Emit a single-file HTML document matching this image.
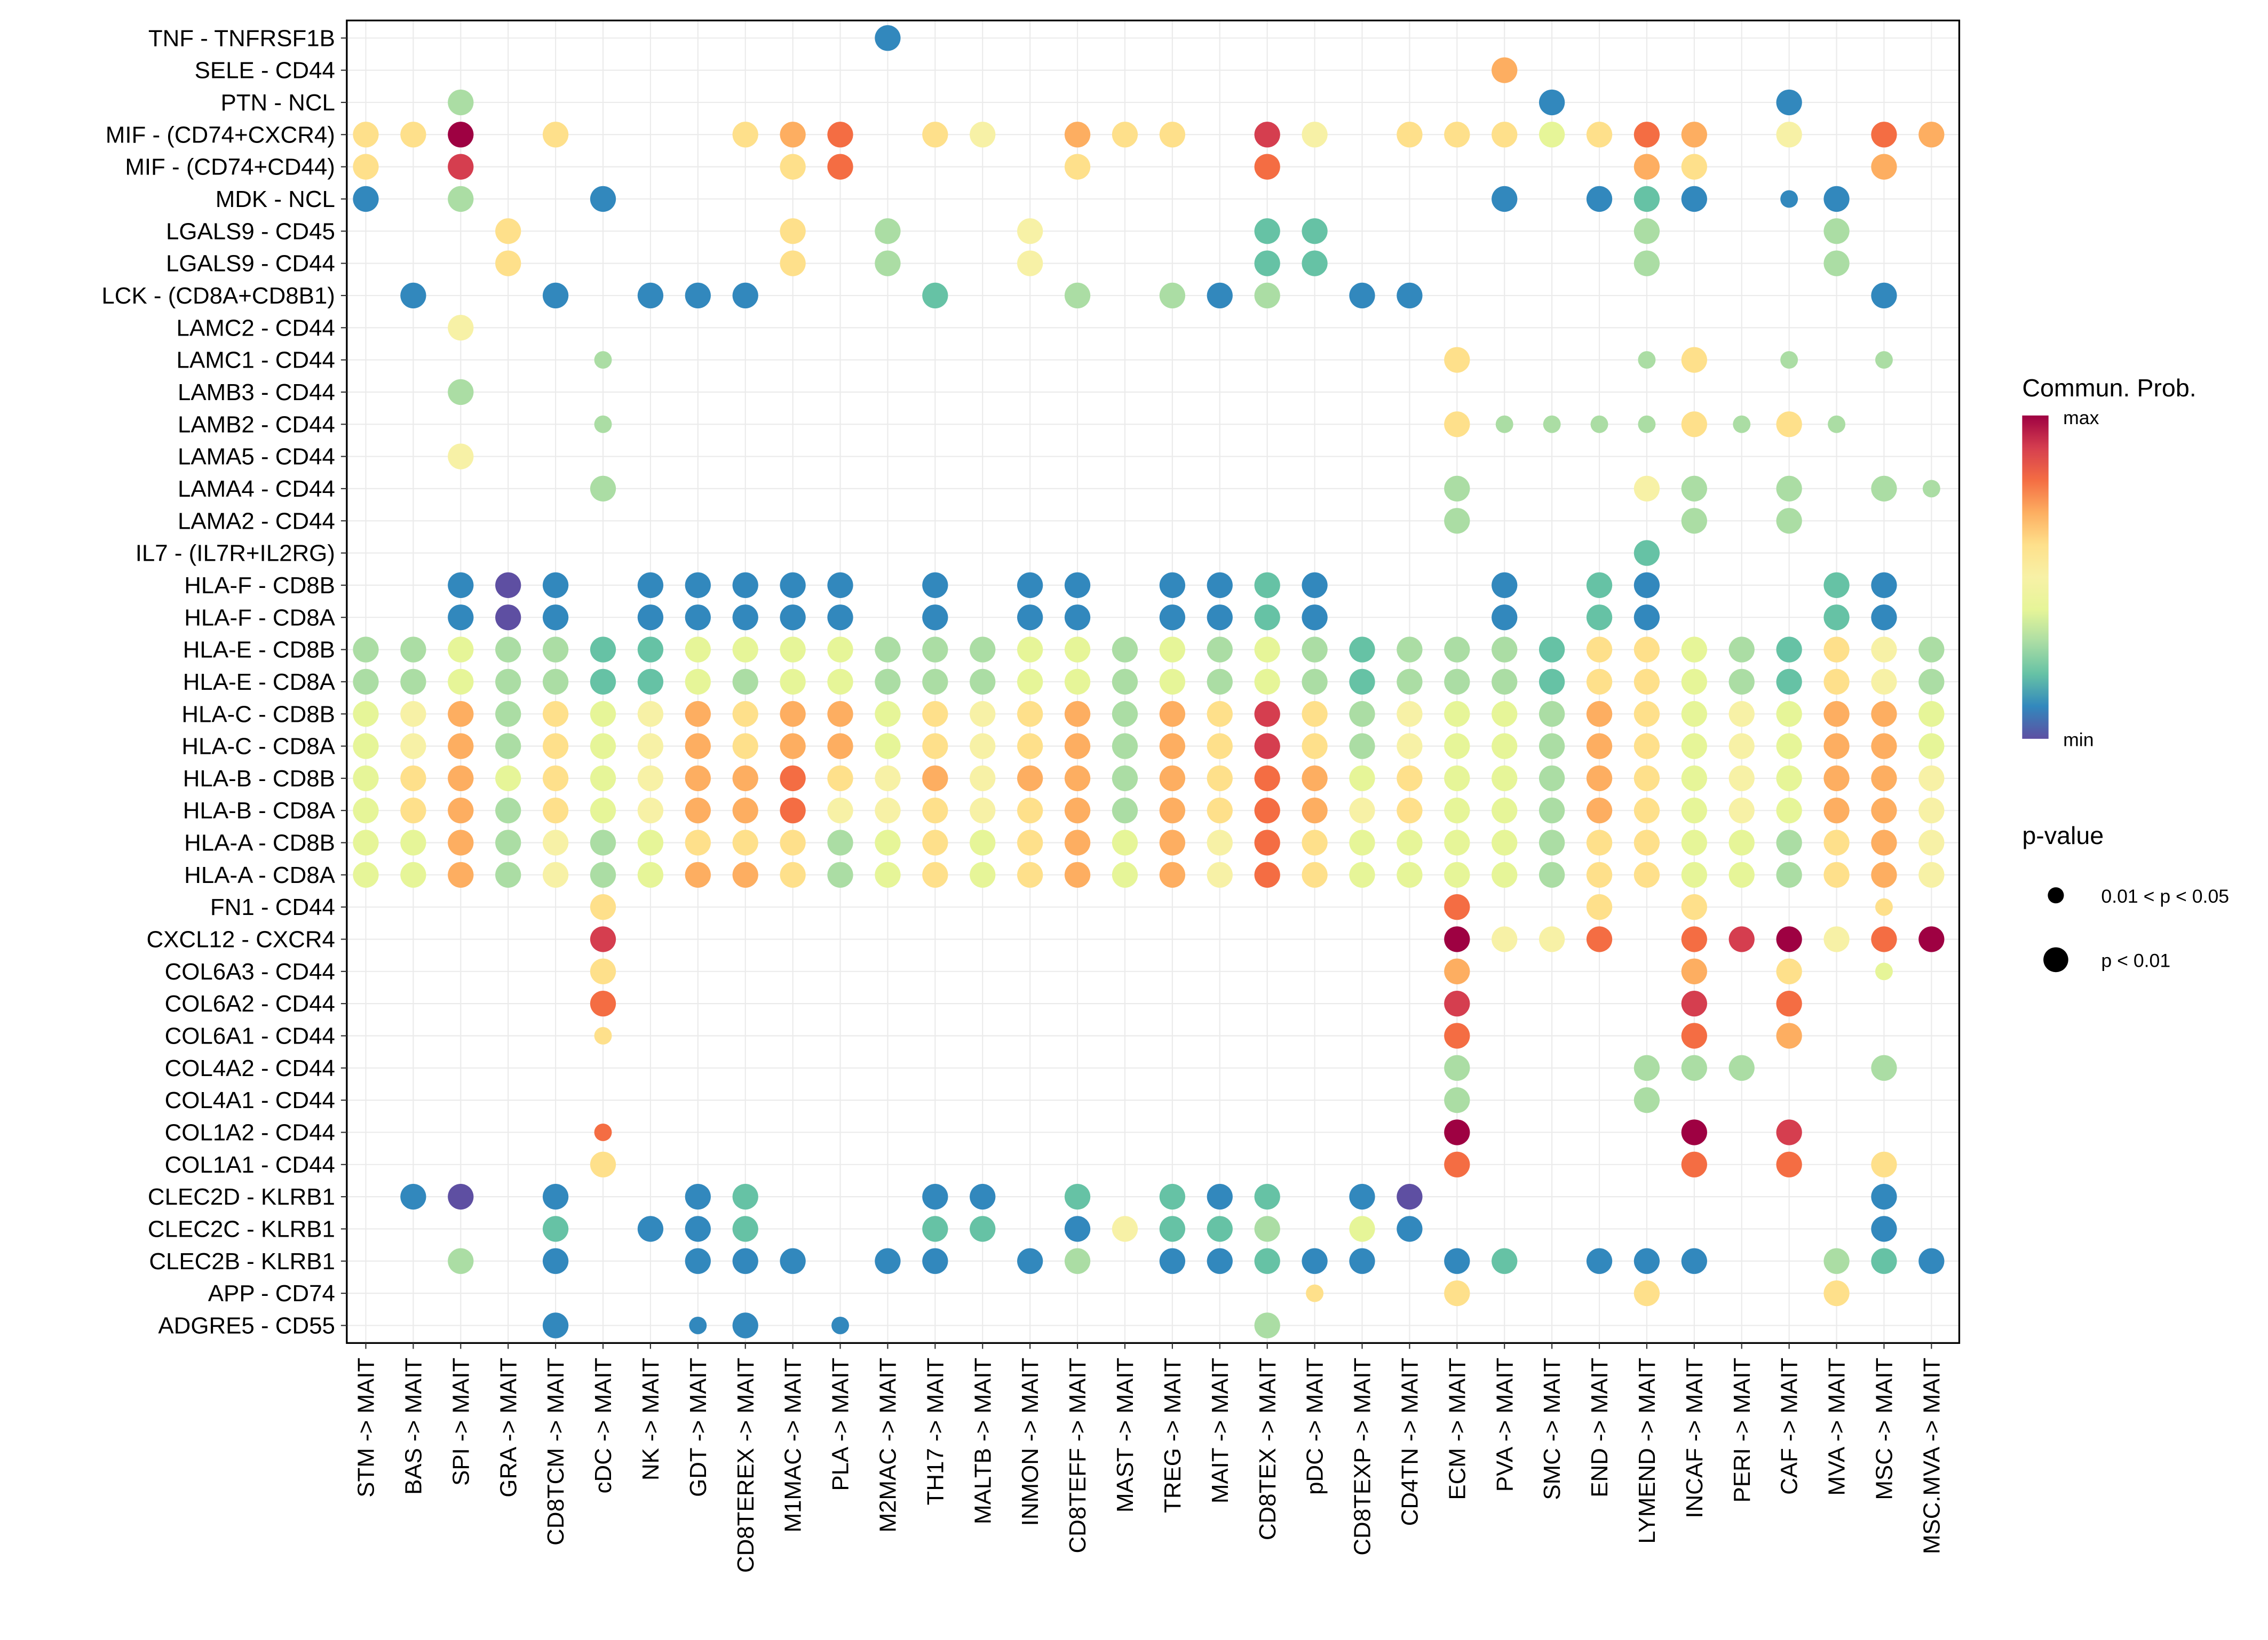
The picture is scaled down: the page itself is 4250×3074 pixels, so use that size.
<!DOCTYPE html>
<html><head><meta charset="utf-8"><style>
html,body{margin:0;padding:0;background:#fff}
svg{display:block}
text{font-family:"Liberation Sans",Arial,sans-serif;fill:#000}
</style></head><body>
<svg id="chart" width="4250" height="3074" viewBox="0 0 1550 1121" preserveAspectRatio="none" xmlns="http://www.w3.org/2000/svg">
<defs>
<linearGradient id="cbar" x1="0" y1="1" x2="0" y2="0">
<stop offset="0" stop-color="#5E4FA2"/><stop offset="0.1" stop-color="#3288BD"/><stop offset="0.2" stop-color="#66C2A5"/><stop offset="0.3" stop-color="#ABDDA4"/><stop offset="0.4" stop-color="#E6F598"/><stop offset="0.5" stop-color="#F7F1A6"/><stop offset="0.6" stop-color="#FEE08B"/><stop offset="0.7" stop-color="#FDAE61"/><stop offset="0.8" stop-color="#F46D43"/><stop offset="0.9" stop-color="#D53E4F"/><stop offset="1" stop-color="#9E0142"/>
</linearGradient>
</defs>
<g id="grid"></g>
<g id="dots"></g>
<rect x="237" y="14" width="1102" height="904" fill="none" stroke="#000" stroke-width="1.2"/>
<g id="ylab"></g>
<g id="xlab"></g>
<g>
<text x="1382" y="271" font-size="17">Commun. Prob.</text>
<rect x="1382" y="284" width="18" height="221" fill="url(#cbar)"/>
<text x="1410" y="290" font-size="13">max</text>
<text x="1410" y="510" font-size="13">min</text>
<text x="1382" y="577" font-size="17">p-value</text>
<circle cx="1405" cy="612" r="5.5" fill="#000"/>
<text x="1436" y="617" font-size="13">0.01 &lt; p &lt; 0.05</text>
<circle cx="1405" cy="656" r="8.5" fill="#000"/>
<text x="1436" y="661" font-size="13">p &lt; 0.01</text>
</g>
</svg>
<script>
const rowLabels = ["TNF - TNFRSF1B","SELE - CD44","PTN - NCL","MIF - (CD74+CXCR4)","MIF - (CD74+CD44)","MDK - NCL","LGALS9 - CD45","LGALS9 - CD44","LCK - (CD8A+CD8B1)","LAMC2 - CD44","LAMC1 - CD44","LAMB3 - CD44","LAMB2 - CD44","LAMA5 - CD44","LAMA4 - CD44","LAMA2 - CD44","IL7 - (IL7R+IL2RG)","HLA-F - CD8B","HLA-F - CD8A","HLA-E - CD8B","HLA-E - CD8A","HLA-C - CD8B","HLA-C - CD8A","HLA-B - CD8B","HLA-B - CD8A","HLA-A - CD8B","HLA-A - CD8A","FN1 - CD44","CXCL12 - CXCR4","COL6A3 - CD44","COL6A2 - CD44","COL6A1 - CD44","COL4A2 - CD44","COL4A1 - CD44","COL1A2 - CD44","COL1A1 - CD44","CLEC2D - KLRB1","CLEC2C - KLRB1","CLEC2B - KLRB1","APP - CD74","ADGRE5 - CD55"];
const colLabels = ["STM","BAS","SPI","GRA","CD8TCM","cDC","NK","GDT","CD8TEREX","M1MAC","PLA","M2MAC","TH17","MALTB","INMON","CD8TEFF","MAST","TREG","MAIT","CD8TEX","pDC","CD8TEXP","CD4TN","ECM","PVA","SMC","END","LYMEND","INCAF","PERI","CAF","MVA","MSC","MSC.MVA"];
// level codes: '0'-'9','A' = prob level 0..10 with p<0.01; 'a'-'k' = same with 0.01<p<0.05; '.' = none
const probLevels = [
"..... ..... .1... ..... ..... ..... ....",
"..... ..... ..... ..... ....7 ..... ....",
"..3.. ..... ..... ..... ..... 1.... 1...",
"66A.6 ...67 8.65. 766.9 5.666 4687. 5.87",
"6.9.. ....6 8.... 6...8 ..... ..76. ..7.",
"1.3.. 1.... ..... ..... ....1 .121. b1..",
"...6. ....6 .3..5 ....2 2.... ..3.. .3..",
"...6. ....6 .3..5 ....2 2.... ..3.. .3..",
".1..1 .111. ..2.. 3.313 .11.. ..... ..1.",
"..5.. ..... ..... ..... ..... ..... ....",
"..... d.... ..... ..... ...6. ..d6. d.d.",
"..3.. ..... ..... ..... ..... ..... ....",
"..... d.... ..... ..... ...6d ddd6d 6d..",
"..5.. ..... ..... ..... ..... ..... ....",
"..... 3.... ..... ..... ...3. ..53. 3.3d",
"..... ..... ..... ..... ...3. ...3. 3...",
"..... ..... ..... ..... ..... ..2.. ....",
"..101 .1111 1.1.1 1.112 1...1 .21.. .21.",
"..101 .1111 1.1.1 1.112 1...1 .21.. .21.",
"33433 22444 43334 43434 32333 26643 2653",
"33433 22434 43334 43434 32333 26643 2653",
"45736 45767 74656 73769 63544 37645 4774",
"45736 45767 74656 73769 63544 37645 4774",
"46746 45778 65757 73768 74644 37645 4775",
"46736 45778 55656 73768 75644 37645 4775",
"44735 34666 34646 74758 64444 36644 3675",
"44735 34776 34646 74758 64444 36644 3675",
"..... 6.... ..... ..... ...8. .6.6. ..g.",
"..... 9.... ..... ..... ...A5 58.89 A58A",
"..... 6.... ..... ..... ...7. ...7. 6.e.",
"..... 8.... ..... ..... ...9. ...9. 8...",
"..... g.... ..... ..... ...8. ...8. 7...",
"..... ..... ..... ..... ...3. ..333 ..3.",
"..... ..... ..... ..... ...3. ..3.. ....",
"..... i.... ..... ..... ...A. ...A. 9...",
"..... 6.... ..... ..... ...8. ...8. 8.6.",
".10.1 ..12. ..11. 2.212 .10.. ..... ..1.",
"....2 .112. ..22. 15223 .41.. ..... ..1.",
"..3.1 ..111 .11.1 3.112 11.12 .111. .321",
"..... ..... ..... ..... g..6. ..6.. .6..",
"....1 ..b1. b.... ....3 ..... ..... ...."
];
const palette = ["#5E4FA2","#3288BD","#66C2A5","#ABDDA4","#E6F598","#F7F1A6","#FEE08B","#FDAE61","#F46D43","#D53E4F","#9E0142"];
const NS = "http://www.w3.org/2000/svg";
const x0 = 250, x1 = 1320, y0 = 26, y1 = 906;
function xScale(i){ return x0 + i*(x1-x0)/(colLabels.length-1); }
function yScale(j){ return y0 + j*(y1-y0)/(rowLabels.length-1); }
const grid = document.getElementById('grid');
const dots = document.getElementById('dots');
const ylab = document.getElementById('ylab');
const xlab = document.getElementById('xlab');
function mk(tag, attrs, parent){ const e=document.createElementNS(NS,tag); for(const k in attrs) e.setAttribute(k,attrs[k]); parent.appendChild(e); return e; }
rowLabels.forEach((lab,j)=>{
  const y=yScale(j);
  const g=mk('line',{x1:237,x2:1339,y1:y,y2:y,stroke:'#ebebeb','stroke-width':0.8},grid);
  
  
  const tk=mk('line',{x1:233,x2:237,y1:y,y2:y,stroke:'#333','stroke-width':0.8},ylab);
  
  
  const t=mk('text',{x:229,y:y+5.5,'text-anchor':'end','font-size':16},ylab);
  t.textContent=lab;
  
  
});
colLabels.forEach((lab,i)=>{
  const x=xScale(i);
  const g=mk('line',{x1:x,x2:x,y1:14,y2:918,stroke:'#ebebeb','stroke-width':0.8},grid);
  
  
  const tk=mk('line',{x1:x,x2:x,y1:918,y2:922,stroke:'#333','stroke-width':0.8},xlab);
  
  
  const t=mk('text',{x:0,y:0,'text-anchor':'end','font-size':16,transform:`translate(${x+5.5},928) rotate(-90)`},xlab);
  t.textContent=lab+' -> MAIT';
  
  
});
probLevels.forEach((rowStr,j)=>{
  const s=rowStr.replace(/ /g,'');
  for(let i=0;i<s.length;i++){
    const c=s[i]; if(c==='.') continue;
    let lvl, small=false;
    if(c>='a'&&c<='k'){ lvl=c.charCodeAt(0)-97; small=true; }
    else if(c==='A'){ lvl=10; }
    else lvl=parseInt(c,10);
    const d=mk('circle',{cx:xScale(i),cy:yScale(j),r:small?6:8.8,fill:palette[lvl]},dots);
    
    
  }
});
</script>
</body></html>
